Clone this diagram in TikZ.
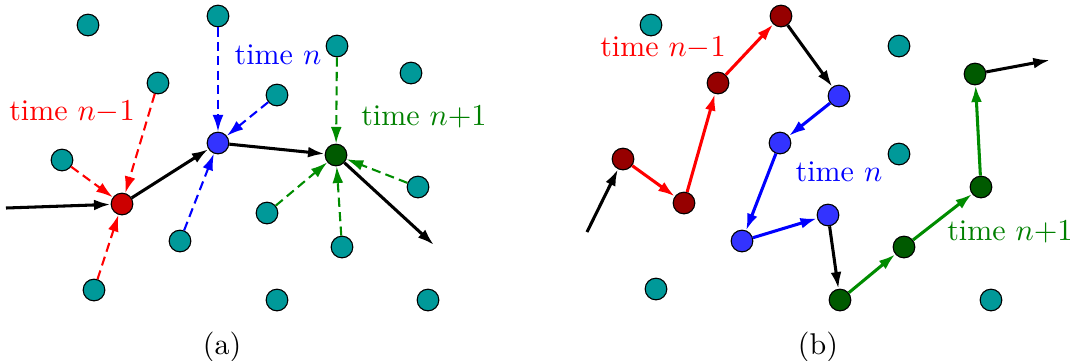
\documentclass[tikz,border=0pt]{standalone}
\usetikzlibrary{arrows.meta}
\definecolor{tealc}{RGB}{0,153,153}
\definecolor{rednode}{RGB}{204,0,0}
\definecolor{darkrednode}{RGB}{150,0,0}
\definecolor{bluenode}{RGB}{51,51,255}
\definecolor{greennode}{RGB}{0,90,0}
\definecolor{redline}{RGB}{255,0,0}
\definecolor{blueline}{RGB}{0,0,255}
\definecolor{greenline}{RGB}{0,140,0}
\definecolor{greentext}{RGB}{0,128,0}
\begin{document}
\begin{tikzpicture}[x=0.36pt,y=-0.36pt,
  dot/.style={circle,draw=black,line width=0.4pt,minimum size=7.8pt,inner sep=0pt},
  site/.style={dot,fill=tealc},
  arr/.style={line width=1.1pt,-{Latex[length=6pt,width=3.9pt]}},
  darr/.style={line width=0.75pt,dash pattern=on 3.3pt off 1.9pt,-{Latex[length=6pt,width=3.9pt]}},
  lbl/.style={inner sep=0pt,font=\fontsize{10.8}{13}\selectfont}]
\useasboundingbox (0,0) rectangle (1074,360);
% ---------- panel (a) ----------
\node[site] (a1) at (88,25) {};
\node[site] (a2) at (218,16) {};
\node[site] (a3) at (158,83) {};
\node[site] (a4) at (337,46) {};
\node[site] (a5) at (411,73) {};
\node[site] (a6) at (277,95) {};
\node[site] (a7) at (62,160) {};
\node[site] (a8) at (418,187) {};
\node[site] (a9) at (267,213) {};
\node[site] (a10) at (180,241) {};
\node[site] (a11) at (342,247) {};
\node[site] (a12) at (94,290) {};
\node[site] (a13) at (277,300) {};
\node[site] (a14) at (428,300) {};
\node[dot,fill=rednode] (ar) at (122,204) {};
\node[dot,fill=bluenode] (ab) at (218,143) {};
\node[dot,fill=greennode] (ag) at (336,155) {};
\coordinate (ain) at (6,208);
\coordinate (aout) at (434,245);
\draw[darr,redline] (a7) -- (ar);
\draw[darr,redline] (a3) -- (ar);
\draw[darr,redline] (a12) -- (ar);
\draw[darr,blueline] (a2) -- (ab);
\draw[darr,blueline] (a6) -- (ab);
\draw[darr,blueline] (a10) -- (ab);
\draw[darr,greenline] (a4) -- (ag);
\draw[darr,greenline] (a9) -- (ag);
\draw[darr,greenline] (a11) -- (ag);
\draw[darr,greenline] (a8) -- (ag);
\draw[arr] (ain) -- (ar);
\draw[arr] (ar) -- (ab);
\draw[arr] (ab) -- (ag);
\draw[arr] (ag) -- (aout);
\node[lbl,text=redline] (la1) at (72,112) {time $n{-}1$};
\node[lbl,text=blueline] (la2) at (278,55) {time $n$};
\node[lbl,text=greentext] (la3) at (424,117) {time $n{+}1$};
\node[lbl] (capa) at (222,347) {(a)};
% ---------- panel (b) ----------
\node[site] (b1) at (651,25) {};
\node[site] (b2) at (899,46) {};
\node[site] (b3) at (899,154) {};
\node[site] (b4) at (656,289) {};
\node[site] (b5) at (991,300) {};
\node[dot,fill=darkrednode] (d1) at (623,159) {};
\node[dot,fill=darkrednode] (d2) at (684,203) {};
\node[dot,fill=darkrednode] (d3) at (718,83) {};
\node[dot,fill=darkrednode] (d4) at (781,16) {};
\node[dot,fill=bluenode] (e1) at (839,96) {};
\node[dot,fill=bluenode] (e2) at (780,143) {};
\node[dot,fill=bluenode] (e3) at (742,241) {};
\node[dot,fill=bluenode] (e4) at (828,215) {};
\node[dot,fill=greennode] (f1) at (840,300) {};
\node[dot,fill=greennode] (f2) at (904,247) {};
\node[dot,fill=greennode] (f3) at (981,187) {};
\node[dot,fill=greennode] (f4) at (975,74) {};
\coordinate (bin) at (587,232);
\coordinate (bout) at (1050,60);
\draw[arr] (bin) -- (d1);
\draw[arr,redline] (d1) -- (d2);
\draw[arr,redline] (d2) -- (d3);
\draw[arr,redline] (d3) -- (d4);
\draw[arr] (d4) -- (e1);
\draw[arr,blueline] (e1) -- (e2);
\draw[arr,blueline] (e2) -- (e3);
\draw[arr,blueline] (e3) -- (e4);
\draw[arr] (e4) -- (f1);
\draw[arr,greenline] (f1) -- (f2);
\draw[arr,greenline] (f2) -- (f3);
\draw[arr,greenline] (f3) -- (f4);
\draw[arr] (f4) -- (bout);
\node[lbl,text=redline] (lb1) at (663,48) {time $n{-}1$};
\node[lbl,text=blueline] (lb2) at (839,172) {time $n$};
\node[lbl,text=greentext] (lb3) at (1010,232) {time $n{+}1$};
\node[lbl] (capb) at (818,347) {(b)};
\end{tikzpicture}
\end{document}
